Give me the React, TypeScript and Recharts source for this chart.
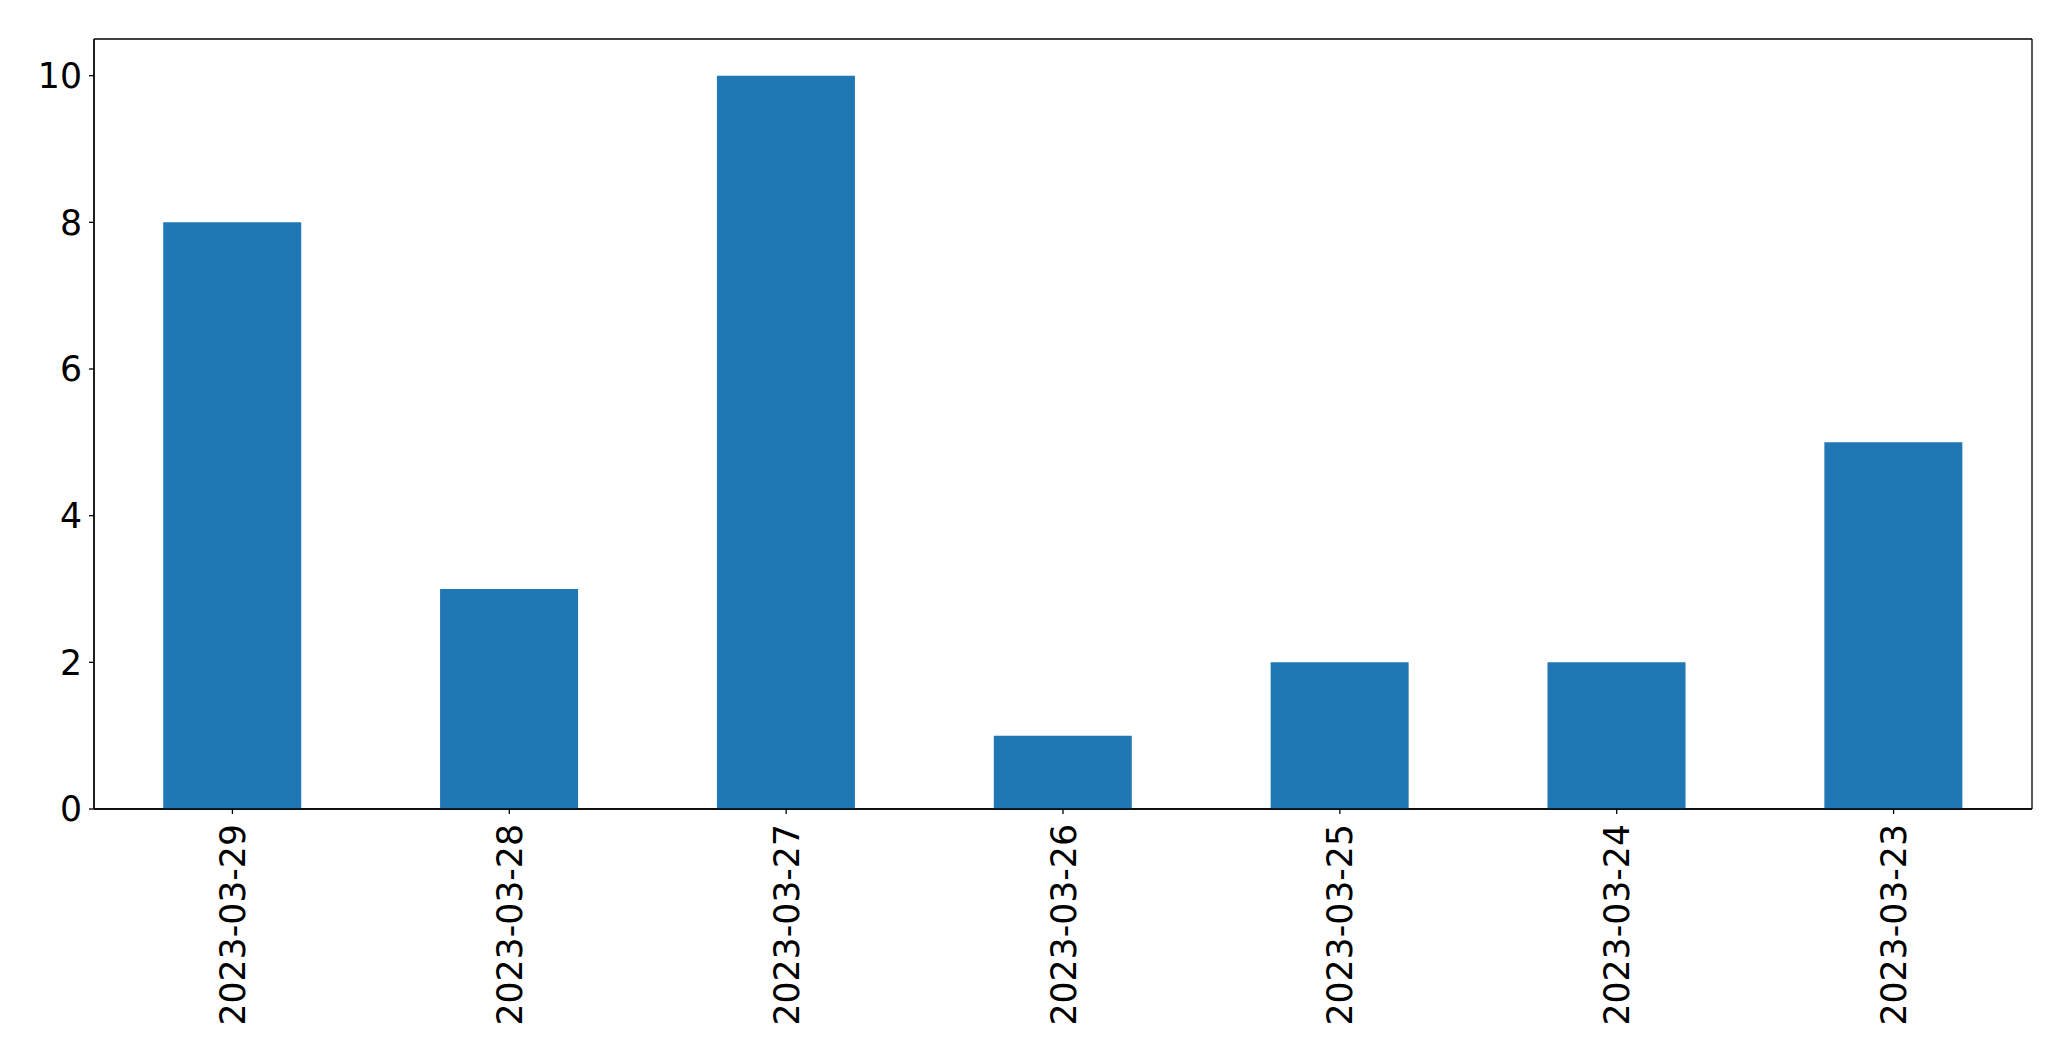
import React from "react";
import { BarChart, Bar, XAxis, YAxis, CartesianGrid } from "recharts";

const categories = ["2023-03-29", "2023-03-28", "2023-03-27", "2023-03-26", "2023-03-25", "2023-03-24", "2023-03-23"];
const values = [8, 3, 10, 1, 2, 2, 5];
const yTicks = [0, 2, 4, 6, 8, 10];

const data = categories.map((c, i) => ({ date: c, value: values[i] }));

const FONT = "'DejaVu Sans', sans-serif";
const FS = 34.7;

const XTick = (props: any) => {
  const { x, y, payload } = props;
  return (
    <g transform={`translate(${x},${y})`}>
      <text
        transform="rotate(-90)"
        textAnchor="end"
        dy="0.36em"
        fontFamily={FONT}
        fontSize={FS}
        fill="#000"
      >
        {payload.value}
      </text>
    </g>
  );
};

const hGen = (p: any) => [p.offset.top, p.offset.top + p.offset.height];
const vGen = (p: any) => [p.offset.left, p.offset.left + p.offset.width];

export default function App() {
  return (
    <div style={{ position: "absolute", left: 0, top: 0, background: "#fff" }}>
      <BarChart
        width={2071}
        height={1061}
        data={data}
        margin={{ top: 39, right: 39, left: 0, bottom: 0 }}
        barCategoryGap="25%"
      >
        <CartesianGrid
          stroke="#000"
          strokeWidth={1.3}
          horizontalCoordinatesGenerator={hGen}
          verticalCoordinatesGenerator={vGen}
          syncWithTicks={false}
        />
        <XAxis
          dataKey="date"
          height={252}
          interval={0}
          tick={<XTick />}
          tickSize={5}
          tickMargin={10}
          axisLine={{ stroke: "#000", strokeWidth: 1.3 }}
          tickLine={{ stroke: "#000", strokeWidth: 1.3 }}
        />
        <YAxis
          width={94}
          domain={[0, 10.5]}
          ticks={yTicks}
          interval={0}
          tickSize={5}
          tickMargin={7}
          tick={{ fontFamily: FONT, fontSize: FS, fill: "#000" }}
          axisLine={{ stroke: "#000", strokeWidth: 1.3 }}
          tickLine={{ stroke: "#000", strokeWidth: 1.3 }}
        />
        <Bar dataKey="value" fill="#1f77b4" isAnimationActive={false} />
      </BarChart>
    </div>
  );
}
